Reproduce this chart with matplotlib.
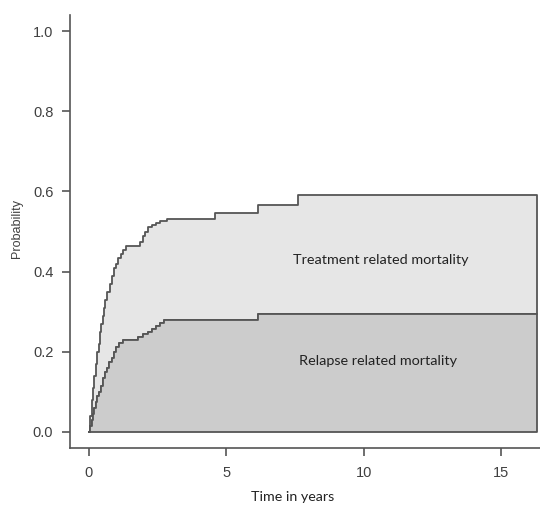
import numpy as np
import matplotlib
matplotlib.use("Agg")
from matplotlib import pyplot as plt

# cumulative incidence, stacked (step functions)
total_time = [0, 0.05, 0.1, 0.15, 0.2, 0.25, 0.3, 0.35, 0.4, 0.45, 0.5, 0.55,
              0.6, 0.67, 0.75, 0.82, 0.9, 0.97, 1.05, 1.15, 1.25, 1.35, 1.85,
              1.95, 2.05, 2.15, 2.3, 2.45, 2.6, 2.82, 4.58, 6.13, 7.6]
total_prob = [0, 0.04, 0.08, 0.11, 0.14, 0.17, 0.2, 0.22, 0.25, 0.27, 0.29,
              0.31, 0.33, 0.35, 0.37, 0.39, 0.41, 0.42, 0.435, 0.445, 0.455,
              0.463, 0.475, 0.49, 0.50, 0.51, 0.515, 0.52, 0.525, 0.532,
              0.547, 0.565, 0.59]

relapse_time = [0, 0.05, 0.1, 0.15, 0.2, 0.25, 0.3, 0.36, 0.42, 0.5, 0.58,
                0.66, 0.74, 0.82, 0.9, 1.0, 1.1, 1.25, 1.8, 1.95, 2.15, 2.3,
                2.45, 2.6, 2.73, 6.13]
relapse_prob = [0, 0.015, 0.03, 0.045, 0.06, 0.075, 0.09, 0.1, 0.115, 0.135,
                0.15, 0.16, 0.175, 0.185, 0.2, 0.213, 0.222, 0.23, 0.238,
                0.245, 0.25, 0.258, 0.265, 0.272, 0.28, 0.295]

max_time = 16.3
x_ticks = [0, 5, 10, 15]
y_ticks = [0.0, 0.2, 0.4, 0.6, 0.8, 1.0]

edge = "#555555"
tick_col = "#404040"

# common grid for stacking
grid = np.unique(np.concatenate([total_time, relapse_time, [max_time]]))


def step_at(t, times, probs):
    idx = np.searchsorted(times, t, side="right") - 1
    return np.asarray(probs)[idx]


low = step_at(grid, relapse_time, relapse_prob)
high = step_at(grid, total_time, total_prob)

fig = plt.figure(figsize=(5.4, 5.07), dpi=100)
ax = fig.add_axes([70 / 540, 59 / 507, 470 / 540, 433 / 507])

ax.fill_between(grid, low, high, step="post", facecolor="#e6e6e6",
                edgecolor=edge, linewidth=1.3)
ax.fill_between(grid, 0, low, step="post", facecolor="#cccccc",
                edgecolor=edge, linewidth=1.3)

ax.set_xlim(-0.69, 16.4)
ax.set_ylim(-0.04, 1.04)

ax.spines["top"].set_visible(False)
ax.spines["right"].set_visible(False)
for s in ["left", "bottom"]:
    ax.spines[s].set_color(edge)
    ax.spines[s].set_linewidth(1.2)

ax.set_xticks(x_ticks)
ax.set_yticks(y_ticks)
ax.set_xticklabels([str(v) for v in x_ticks])
ax.set_yticklabels([f"{v:.1f}" for v in y_ticks])
ax.tick_params(axis="both", direction="out", length=6, width=1.2,
               color=edge, labelcolor=tick_col, labelsize=10.5)
ax.tick_params(axis="x", pad=7)
ax.tick_params(axis="y", pad=6)
for lab in ax.get_xticklabels() + ax.get_yticklabels():
    lab.set_family("Liberation Sans")

ax.text(10.6, 0.43, "Treatment related mortality", ha="center", va="center",
        fontsize=10.4, family="Lato", color="#222222")
ax.text(10.5, 0.178, "Relapse related mortality", ha="center", va="center",
        fontsize=10.4, family="Lato", color="#222222")

fig.text(17 / 540, 1 - 229 / 507, "Probability", rotation=90, ha="center",
         va="center", fontsize=9, family="Liberation Sans", color=tick_col)
fig.text(293 / 540, 1 - 497 / 507, "Time in years", ha="center", va="center",
         fontsize=10.3, family="Lato", color="#222222")

fig.savefig("out.png", dpi=100)
